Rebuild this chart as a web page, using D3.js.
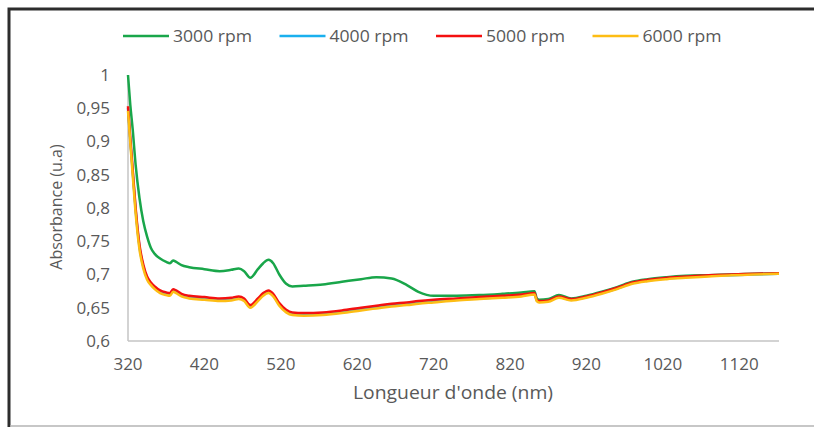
<!DOCTYPE html>
<html lang="en">
<head>
  <meta charset="utf-8" />
  <title>Absorbance</title>
  <script src="https://cdn.jsdelivr.net/npm/d3@7"></script>
  <style>
    body { margin: 0; background: #fff; }
    text { font-family: "Open Sans", sans-serif; fill: #595959; }
  </style>
</head>
<body>
  <script>
    // wavelengths (nm) shared by all series
    var wavelength = [320, 323, 326, 330, 335, 340, 345, 350, 355, 362, 370, 375, 379, 383, 390, 400, 420, 440, 455, 465,
      472, 480, 490, 497, 504, 510, 518, 527, 535, 550, 575, 600, 625, 645, 665, 685, 700, 720, 750, 780,
      810, 835, 852, 855, 858, 870, 884, 900, 920, 940, 960, 980, 1000, 1025, 1050, 1080, 1110, 1140, 1172];

    var rpm3000 = [1.000, 0.955, 0.920, 0.865, 0.815, 0.780, 0.757, 0.740, 0.731, 0.724, 0.719, 0.717, 0.721, 0.719, 0.714, 0.711, 0.708, 0.705, 0.707, 0.709,
      0.705, 0.695, 0.708, 0.717, 0.722, 0.717, 0.700, 0.686, 0.682, 0.683, 0.685, 0.689, 0.693, 0.696, 0.694, 0.684, 0.674, 0.668, 0.668, 0.669,
      0.671, 0.673, 0.675, 0.664, 0.662, 0.663, 0.669, 0.664, 0.668, 0.674, 0.681, 0.689, 0.693, 0.696, 0.698, 0.699, 0.700, 0.701, 0.702];

    var rpm4000 = [0.950, 0.902, 0.857, 0.797, 0.742, 0.712, 0.695, 0.686, 0.680, 0.674, 0.671, 0.670, 0.676, 0.674, 0.669, 0.666, 0.664, 0.662, 0.663, 0.665,
      0.662, 0.652, 0.662, 0.670, 0.674, 0.669, 0.655, 0.645, 0.641, 0.640, 0.641, 0.644, 0.648, 0.651, 0.654, 0.656, 0.658, 0.660, 0.662, 0.664,
      0.666, 0.668, 0.671, 0.661, 0.659, 0.660, 0.666, 0.662, 0.666, 0.672, 0.679, 0.687, 0.691, 0.694, 0.696, 0.698, 0.699, 0.700, 0.701];

    var rpm5000 = [0.953, 0.905, 0.860, 0.800, 0.745, 0.715, 0.697, 0.688, 0.682, 0.676, 0.673, 0.672, 0.678, 0.676, 0.671, 0.668, 0.666, 0.664, 0.665, 0.667,
      0.664, 0.654, 0.664, 0.672, 0.676, 0.671, 0.657, 0.647, 0.643, 0.642, 0.643, 0.646, 0.650, 0.653, 0.656, 0.658, 0.660, 0.662, 0.664, 0.666,
      0.668, 0.670, 0.672, 0.662, 0.660, 0.661, 0.667, 0.663, 0.667, 0.673, 0.680, 0.688, 0.692, 0.695, 0.697, 0.699, 0.700, 0.701, 0.702];

    var rpm6000 = [0.946, 0.898, 0.852, 0.792, 0.738, 0.709, 0.692, 0.684, 0.678, 0.672, 0.669, 0.668, 0.674, 0.672, 0.667, 0.664, 0.662, 0.660, 0.661, 0.663,
      0.660, 0.650, 0.660, 0.668, 0.672, 0.667, 0.653, 0.643, 0.639, 0.638, 0.639, 0.642, 0.646, 0.649, 0.652, 0.654, 0.656, 0.658, 0.661, 0.663,
      0.665, 0.667, 0.670, 0.660, 0.658, 0.659, 0.665, 0.661, 0.665, 0.671, 0.678, 0.686, 0.690, 0.693, 0.695, 0.697, 0.699, 0.700, 0.701];

    var seriesNames = ["3000 rpm", "4000 rpm", "5000 rpm", "6000 rpm"];
    var seriesColors = ["#19a64a", "#1ab0ee", "#f41010", "#fdbd14"];
    var xTicks = [320, 420, 520, 620, 720, 820, 920, 1020, 1120];
    var yTicks = [0.6, 0.65, 0.7, 0.75, 0.8, 0.85, 0.9, 0.95, 1];

    var allSeries = [rpm3000, rpm4000, rpm5000, rpm6000];

    var width = 814, height = 427;
    var svg = d3.select("body").append("svg").attr("width", width).attr("height", height);

    // outer frame of the screenshot
    svg.append("path")
      .attr("d", "M9,427 L9,9 L814,9")
      .attr("fill", "none").attr("stroke", "#2d2d2d").attr("stroke-width", 3);
    svg.append("line")
      .attr("x1", 10).attr("x2", 814).attr("y1", 426).attr("y2", 426)
      .attr("stroke", "#b4b4b4").attr("stroke-width", 1.5);

    var x = d3.scaleLinear().domain([320, 1172]).range([128, 779]);
    var y = d3.scaleLinear().domain([0.6, 1]).range([341, 75]);

    // axis lines
    svg.append("line").attr("x1", 128).attr("x2", 779).attr("y1", y(0.6)).attr("y2", y(0.6))
      .attr("stroke", "#c4c4c4").attr("stroke-width", 1.5);
    svg.append("line").attr("x1", 128).attr("x2", 128).attr("y1", y(0.6)).attr("y2", y(1))
      .attr("stroke", "#c4c4c4").attr("stroke-width", 1.5);

    var fmt = function(d) { return String(+d.toFixed(2)).replace(".", ","); };

    svg.append("g").selectAll("text")
      .data(yTicks).enter().append("text")
      .attr("x", 110).attr("y", function(d) { return y(d); })
      .attr("dy", "0.35em").attr("text-anchor", "end")
      .style("font-size", "17px")
      .text(fmt);

    svg.append("g").selectAll("text")
      .data(xTicks).enter().append("text")
      .attr("x", function(d) { return x(d); }).attr("y", 364)
      .attr("dy", "0.35em").attr("text-anchor", "middle")
      .style("font-size", "17px")
      .text(function(d) { return d; });

    svg.append("text")
      .attr("x", 453).attr("y", 393).attr("dy", "0.35em")
      .attr("text-anchor", "middle").style("font-size", "18px")
      .attr("textLength", 200).attr("lengthAdjust", "spacingAndGlyphs")
      .text("Longueur d'onde (nm)");

    svg.append("text")
      .attr("transform", "translate(56,207) rotate(-90)")
      .attr("dy", "0.35em").attr("text-anchor", "middle").style("font-size", "16px")
      .text("Absorbance (u.a)");

    var line = d3.line()
      .x(function(d, i) { return x(wavelength[i]); })
      .y(function(d) { return y(d); })
      .curve(d3.curveMonotoneX);

    svg.append("g").selectAll("path")
      .data(allSeries).enter().append("path")
      .attr("d", line)
      .attr("fill", "none")
      .attr("stroke", function(d, i) { return seriesColors[i]; })
      .attr("stroke-width", 2.5)
      .attr("stroke-linejoin", "round");

    // legend
    var legend = svg.append("g").selectAll("g")
      .data(seriesNames).enter().append("g")
      .attr("transform", function(d, i) { return "translate(" + (123 + i * 156.5) + ",36)"; });
    legend.append("line").attr("x1", 0).attr("x2", 46).attr("y1", 0).attr("y2", 0)
      .attr("stroke", function(d, i) { return seriesColors[i]; }).attr("stroke-width", 2.5);
    legend.append("text").attr("x", 50).attr("dy", "0.35em")
      .style("font-size", "17px")
      .attr("textLength", 79).attr("lengthAdjust", "spacingAndGlyphs")
      .text(function(d) { return d; });
  </script>
</body>
</html>
